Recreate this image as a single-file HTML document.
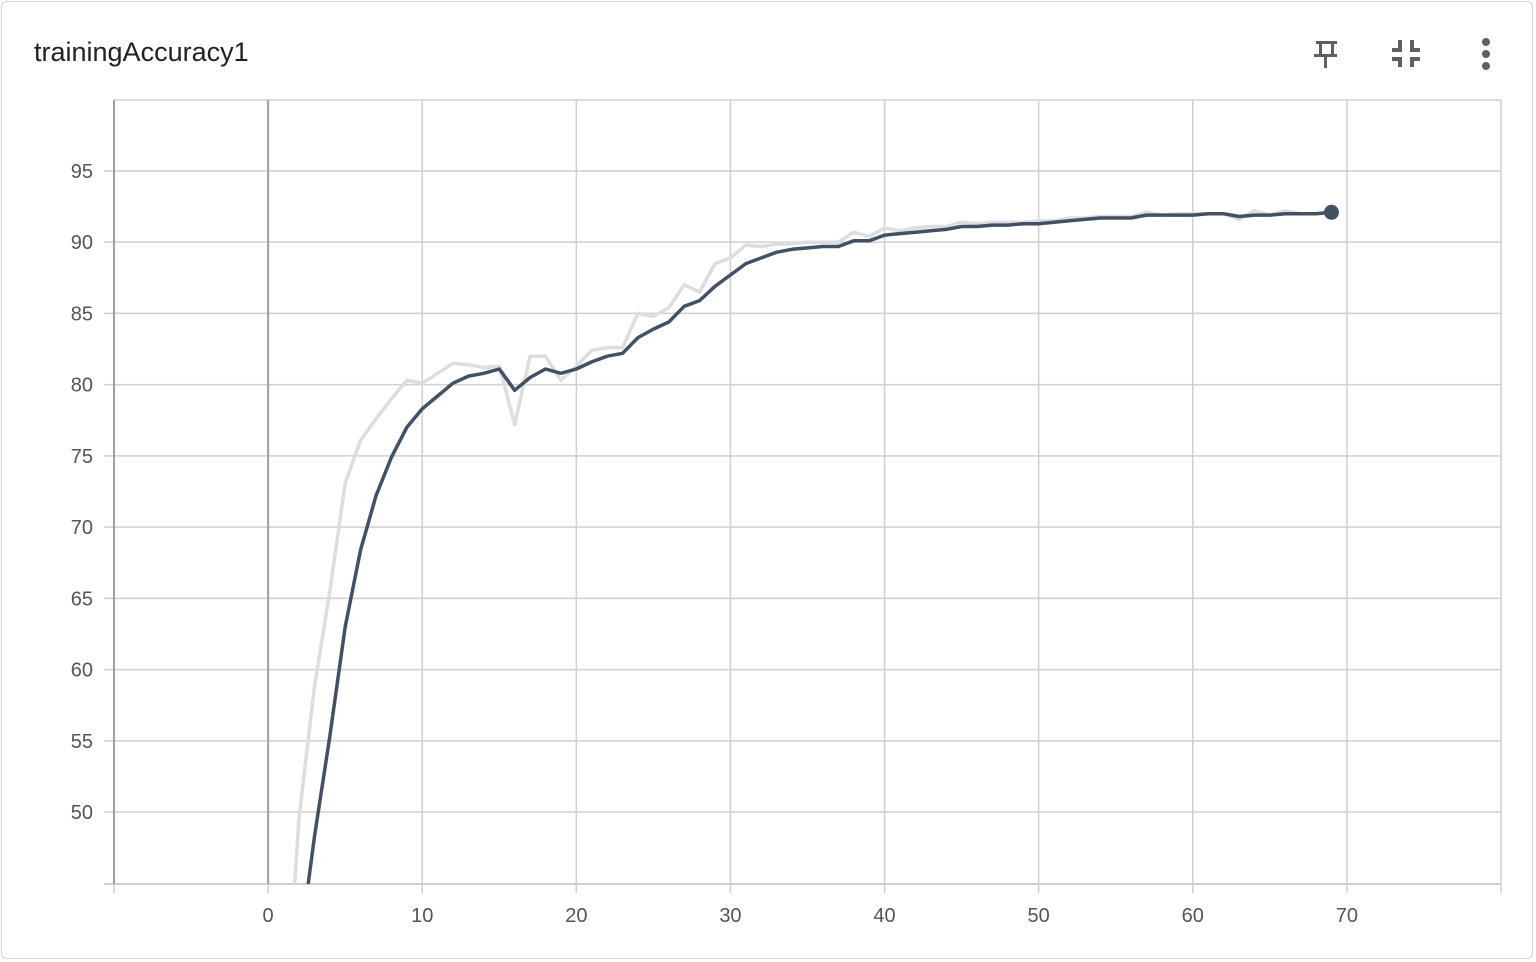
<!DOCTYPE html>
<html><head><meta charset="utf-8">
<style>
html,body{margin:0;padding:0;background:#fff;width:1536px;height:962px;overflow:hidden;}
body{position:relative;font-family:"Liberation Sans",Roboto,sans-serif;}
#card{position:absolute;left:1px;top:1px;width:1532px;height:958px;border:1.5px solid #d6d6d6;border-radius:6px;box-sizing:border-box;}
#title{position:absolute;left:34px;top:37px;font-size:27px;line-height:30px;color:#212121;}
svg{position:absolute;left:0;top:0;display:block;}
</style></head><body>
<div id="card"></div>
<div id="title">trainingAccuracy1</div>
<svg width="1536" height="962" id="icons">
  <g fill="#5f5f5f">
    <rect x="1316" y="41" width="21" height="3"/>
    <rect x="1319" y="43" width="3" height="13"/>
    <rect x="1331" y="43" width="3" height="13"/>
    <rect x="1314" y="54" width="23" height="3"/>
    <rect x="1324" y="56" width="3" height="12"/>
  </g>
  <g fill="#5f5f5f">
    <rect x="1392" y="48" width="10" height="4"/><rect x="1398" y="40" width="4" height="10"/>
    <rect x="1410" y="48" width="10" height="4"/><rect x="1410" y="40" width="4" height="10"/>
    <rect x="1392" y="57" width="10" height="4"/><rect x="1398" y="57" width="4" height="10"/>
    <rect x="1410" y="57" width="10" height="4"/><rect x="1410" y="57" width="4" height="10"/>
  </g>
  <g fill="#5f5f5f">
    <circle cx="1486" cy="42" r="4"/><circle cx="1486" cy="54" r="4"/><circle cx="1486" cy="66" r="4"/>
  </g>
</svg>
<svg width="1536" height="962" id="chart"></svg>
<script>
const xTicks=[-10,0,10,20,30,40,50,60,70,80];
const xTickLabels=["","0","10","20","30","40","50","60","70",""];
const yTicks=[50,55,60,65,70,75,80,85,90,95];
const steps=[0,1,2,3,4,5,6,7,8,9,10,11,12,13,14,15,16,17,18,19,20,21,22,23,24,25,26,27,28,29,30,31,32,33,34,35,36,37,38,39,40,41,42,43,44,45,46,47,48,49,50,51,52,53,54,55,56,57,58,59,60,61,62,63,64,65,66,67,68,69];
const rawValues=[15,33,49.5,58.7,65.5,73.1,76.1,77.6,79,80.3,80.1,80.8,81.5,81.4,81.2,81.3,77.2,82,82,80.3,81.3,82.4,82.6,82.6,85,84.8,85.4,87,86.5,88.5,88.9,89.8,89.7,89.85,89.9,90,90,90,90.7,90.4,91,90.8,91,91.1,91.1,91.4,91.3,91.4,91.4,91.4,91.5,91.5,91.7,91.7,91.8,91.8,91.8,92.1,91.9,92,92,92,92,91.6,92.2,91.9,92.2,92,92,92.1];
const smoothValues=[12,28,40,48.2,55.3,63,68.4,72.2,74.9,77,78.3,79.2,80.1,80.6,80.8,81.1,79.6,80.5,81.1,80.8,81.1,81.6,82,82.2,83.3,83.9,84.4,85.5,85.9,86.9,87.7,88.5,88.9,89.3,89.5,89.6,89.7,89.7,90.1,90.1,90.5,90.6,90.7,90.8,90.9,91.1,91.1,91.2,91.2,91.3,91.3,91.4,91.5,91.6,91.7,91.7,91.7,91.9,91.9,91.9,91.9,92,92,91.8,91.9,91.9,92,92,92,92.1];

const L=114,R=1501,T=100,B=884;
const xMin=-10,xMax=80,yMin=44.95,yMax=99.98;
const sx=v=>L+(v-xMin)/(xMax-xMin)*(R-L);
const sy=v=>B-(v-yMin)/(yMax-yMin)*(B-T);
const NS="http://www.w3.org/2000/svg";
const svg=document.getElementById('chart');
function mk(tag,attrs){const e=document.createElementNS(NS,tag);for(const k in attrs)e.setAttribute(k,attrs[k]);svg.appendChild(e);return e;}

yTicks.forEach(v=>{
  const l=mk('line',{x1:104,x2:R,y1:sy(v),y2:sy(v),stroke:'#cfcfcf','stroke-width':1.5});
  
  
  const t=mk('text',{x:93,y:sy(v)+7,'text-anchor':'end','font-size':20,fill:'#555','font-family':'Liberation Sans, sans-serif'});
  t.textContent=v;
  
  
});
const tb=mk('line',{x1:L,x2:R,y1:T,y2:T,stroke:'#cfcfcf','stroke-width':1.5});


const bb=mk('line',{x1:104,x2:R,y1:B,y2:B,stroke:'#cfcfcf','stroke-width':2});


xTicks.forEach((v,i)=>{
  const dark=(v===0||v===xMin);
  const l=mk('line',{x1:sx(v),x2:sx(v),y1:T,y2:B,stroke:dark?'#a0a0a0':'#cfcfcf','stroke-width':dark?2:1.5});
  
  
  const tk=mk('line',{x1:sx(v),x2:sx(v),y1:B,y2:B+9,stroke:'#cfcfcf','stroke-width':1.5});
  
  
  const t=mk('text',{x:sx(v),y:922,'text-anchor':'middle','font-size':20,fill:'#555','font-family':'Liberation Sans, sans-serif'});
  t.textContent=xTickLabels[i];
  
  
});
const defs=mk('defs',{});
const cp=document.createElementNS(NS,'clipPath');cp.setAttribute('id','plotclip');
const cr=document.createElementNS(NS,'rect');cr.setAttribute('x',L);cr.setAttribute('y',T);cr.setAttribute('width',R-L);cr.setAttribute('height',B-T);
cp.appendChild(cr);defs.appendChild(cp);
function pathFor(vals){return vals.map((v,i)=>(i?'L':'M')+sx(steps[i]).toFixed(1)+','+sy(v).toFixed(1)).join(' ');}
const raw=mk('path',{d:pathFor(rawValues),fill:'none',stroke:'#dcdde0','stroke-width':3.5,'stroke-linejoin':'round','clip-path':'url(#plotclip)'});


const sm=mk('path',{d:pathFor(smoothValues),fill:'none',stroke:'#425066','stroke-width':3.5,'stroke-linejoin':'round','clip-path':'url(#plotclip)'});


const n=steps.length-1;
const dot=mk('circle',{cx:sx(steps[n]),cy:sy(smoothValues[n]),r:7.5,fill:'#425066'});


</script>
</body></html>
